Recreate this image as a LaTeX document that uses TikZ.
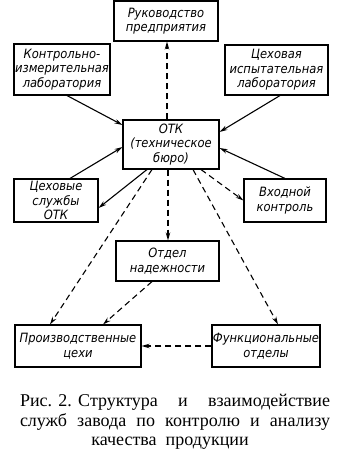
\documentclass[tikz,border=0pt]{standalone}
\usepackage{fontspec}
\setmainfont{Liberation Serif}
\newfontfamily\boxfont{DejaVu Sans Condensed Oblique}
\usetikzlibrary{arrows.meta,calc}
\begin{document}
\begin{tikzpicture}[x=1pt,y=-1pt,
  box/.style={draw,line width=1.1pt,inner sep=0pt,align=center,
    font=\boxfont\fontsize{12.8}{14.5}\selectfont},
  sol/.style={line width=1.1pt,-{Stealth[length=8pt,width=4.5pt]}},
  dsh/.style={line width=1.1pt,dash pattern=on 6pt off 4pt,-{Stealth[length=8pt,width=4.5pt]}},
  captext/.style={font=\fontsize{18}{19.5}\selectfont,align=center,inner sep=0pt}]
\useasboundingbox (0,0) rectangle (350,468);
\node[box,minimum width=104pt,minimum height=40pt] (ruk) at (166,21) {Руководство\\предприятия};
\node[box,minimum width=96pt,minimum height=51pt] (kil) at (62,69.5) {Контрольно-\\измерительная\\лаборатория};
\node[box,minimum width=103pt,minimum height=50pt] (cil) at (276.5,70) {Цеховая\\испытательная\\лаборатория};
\node[box,minimum width=96pt,minimum height=49pt] (otk) at (171,144.5) {ОТК\\(техническое\\бюро)};
\node[box,minimum width=84pt,minimum height=43pt] (cs) at (56,200.5) {Цеховые\\службы\\ОТК};
\node[box,minimum width=82pt,minimum height=43pt] (vk) at (285,200.5) {Входной\\контроль};
\node[box,minimum width=103pt,minimum height=40pt] (on) at (167.5,261) {Отдел\\надежности};
\node[box,minimum width=126pt,minimum height=42pt] (pc) at (78,346) {Производственные\\цехи};
\node[box,minimum width=108pt,minimum height=42pt] (fo) at (266,346) {Функциональные\\отделы};
% solid connectors
\draw[sol] ($(kil.south)+(5,0)$) -- ($(otk.west)+(0,-19.5)$);
\draw[sol] ($(cs.north)+(14,0)$) -- ($(otk.west)+(0,2.5)$);
\draw[sol] ($(otk.south)+(-24,0)$) -- ($(cs.east)+(0,7.5)$);
\draw[sol] ($(cil.south)+(3.5,0)$) -- ($(otk.east)+(0,-12.5)$);
\draw[sol] (vk.north) -- ($(otk.east)+(0,3.5)$);
% dashed connectors
\draw[dsh] ($(otk.north)+(-4,0)$) -- ($(ruk.south)+(1,0)$);
\draw[dsh] ($(otk.south)+(-3,0)$) -- ($(on.north)+(0.5,0)$);
\draw[dsh] ($(otk.south)+(30,0)$) -- (vk.west);
\draw[dsh] ($(otk.south)+(22,0)$) -- ($(fo.north)+(12,0)$);
\draw[dsh] ($(otk.south)+(-19,0)$) -- ($(pc.north)+(-28,0)$);
\draw[dsh] ($(on.south)+(-15.5,0)$) -- ($(pc.north)+(25,0)$);
\draw[dsh] (fo.west) -- (pc.east);
% caption
\node[captext,anchor=base] (c1) at (175,406) {\makebox[310pt][s]{Рис.\hspace{0.35em}2.\hspace{0.35em}Структура и взаимодействие}};
\node[captext,anchor=base] (c2) at (175,426) {\makebox[310pt][s]{служб завода по контролю и анализу}};
\node[captext,anchor=base] (c3) at (170,445) {качества\hspace{0.5em}продукции};
\end{tikzpicture}
\end{document}
